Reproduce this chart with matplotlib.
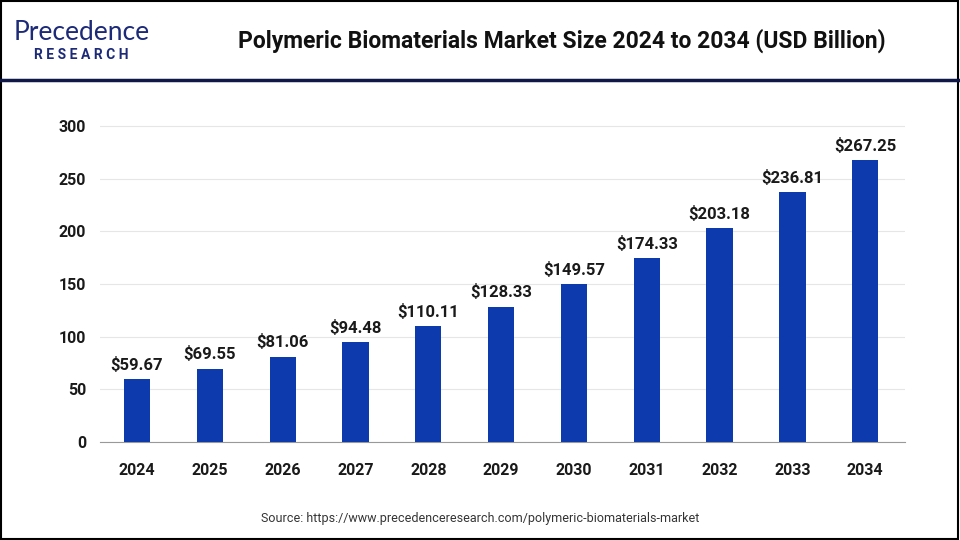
import matplotlib.pyplot as plt
from matplotlib.patches import Rectangle
from matplotlib.lines import Line2D

years = ['2024', '2025', '2026', '2027', '2028', '2029', '2030', '2031', '2032', '2033', '2034']
values = [59.67, 69.55, 81.06, 94.48, 110.11, 128.33, 149.57, 174.33, 203.18, 236.81, 267.25]
yticks = [0, 50, 100, 150, 200, 250, 300]

plt.rcParams['font.family'] = 'Roboto'

fig = plt.figure(figsize=(9.6, 5.4), dpi=100)
ax = fig.add_axes([0.104, 0.1815, 0.839, 0.6245])

x = range(len(years))
ax.bar(x, values, width=0.36, color='#0d3aad', zorder=3)
for i, v in zip(x, values):
    ax.text(i, v + 6, f'${v:.2f}', ha='center', va='bottom', fontsize=12,
            fontweight='bold', color='#1a1a1a')

ax.set_xlim(-0.51, 10.55)
ax.set_ylim(0, 320)
ax.set_yticks(yticks)
ax.set_xticks(list(x))
ax.set_xticklabels(years)
ax.tick_params(axis='both', length=0, labelsize=11.5, colors='#1a1a1a')
ax.tick_params(axis='x', pad=15)
ax.tick_params(axis='y', pad=10)
for lab in ax.get_xticklabels() + ax.get_yticklabels():
    lab.set_fontweight('bold')
ax.grid(axis='y', color='#e6e6e6', linewidth=0.8, zorder=0)
for s in ['top', 'right', 'left']:
    ax.spines[s].set_visible(False)
ax.spines['bottom'].set_color('#999999')

fig.text(0.585, 0.925, 'Polymeric Biomaterials Market Size 2024 to 2034 (USD Billion)',
         ha='center', va='center', fontsize=16.5, fontweight='bold', color='#111111')
fig.text(0.085, 0.94, 'Precedence', ha='center', va='center', fontsize=19,
         color='#1c2a78', family='Lato')
fig.text(0.085, 0.898, 'R E S E A R C H', ha='center', va='center', fontsize=10,
         fontweight='bold', color='#1c2a78')
fig.text(0.5, 0.04, 'Source: https://www.precedenceresearch.com/polymeric-biomaterials-market',
         ha='center', va='center', fontsize=9, color='#333333')

fig.add_artist(Line2D([0, 1], [0.852, 0.852], color='#101848', linewidth=2.5))
fig.add_artist(Rectangle((0.001, 0.002), 0.997, 0.996, fill=False, edgecolor='black',
                         linewidth=1.5, transform=fig.transFigure))

fig.savefig('out.png', dpi=100)
